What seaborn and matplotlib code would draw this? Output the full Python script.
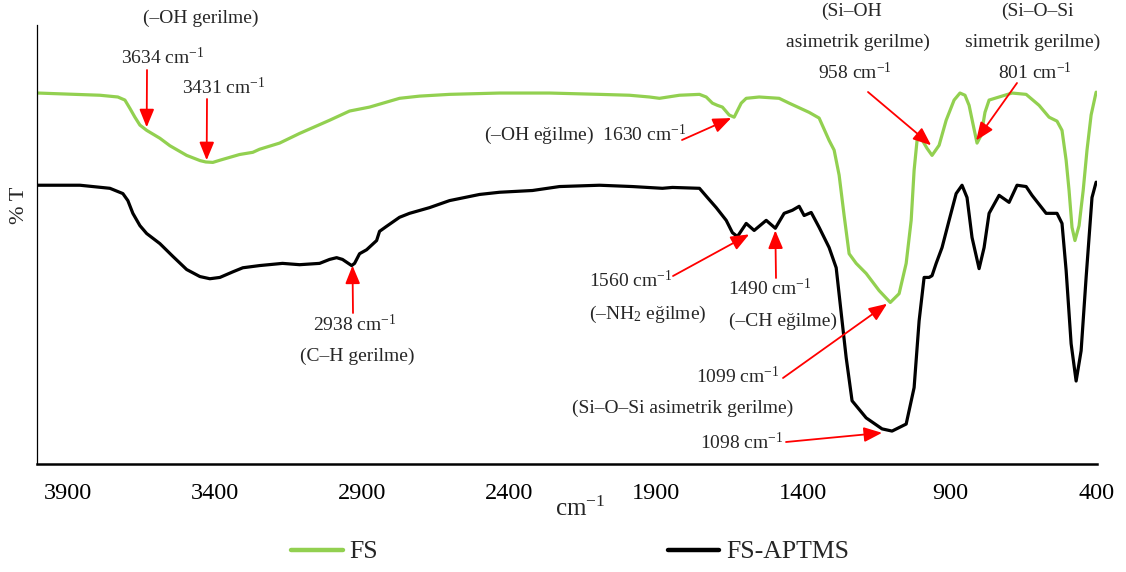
import matplotlib
matplotlib.use("Agg")
import matplotlib.pyplot as plt
import seaborn as sns
import numpy as np
import pandas as pd

# ---------------- data ----------------
fs_wn = [4002, 3791, 3730, 3706, 3689, 3672, 3655, 3632, 3587, 3553, 3496, 3450,
         3431, 3407, 3383, 3316, 3271, 3248,
         3180, 3112, 3010, 2942, 2874, 2772, 2704, 2602, 2432, 2262, 2092, 1990,
         1922, 1888, 1820, 1752, 1729, 1708, 1691, 1674, 1651, 1634, 1610, 1593,
         1549, 1481, 1447, 1379, 1345, 1311, 1294, 1277, 1260, 1243, 1219, 1185,
         1141, 1103, 1073, 1049, 1032, 1022, 1012, 998, 978, 961, 937, 913, 886,
         866, 849, 835, 821, 808, 794, 781, 767, 733, 689, 641, 597, 563, 536,
         519, 505, 495, 485, 475, 461, 447, 434, 420, 403]
fs_t = [84.5, 84.0, 83.6, 82.9, 81.0, 79.0, 77.2, 76.0, 74.2, 72.5, 70.3, 69.1,
        68.8, 68.7, 69.2, 70.5, 71.0, 71.7,
        73.1, 75.3, 78.3, 80.4, 81.3, 83.3, 83.8, 84.2, 84.5, 84.5, 84.2, 84.0,
        83.6, 83.3, 84.0, 84.2, 83.6, 82.2, 81.7, 81.3, 79.5, 79.0, 82.2, 83.3,
        83.6, 83.3, 82.2, 80.1, 78.8, 73.7, 71.5, 65.8, 56.6, 47.9, 45.7, 43.4,
        39.5, 36.8, 38.8, 45.7, 55.5, 66.9, 73.7, 74.2, 71.9, 70.3, 72.6, 78.3, 82.9,
        84.5, 84.0, 81.7, 77.2, 73.1, 74.9, 80.1, 82.9, 83.6, 84.5, 84.2, 81.7, 79.0, 78.1,
        76.0, 69.2, 62.3, 53.9, 50.9, 54.3, 62.3, 71.5, 79.5, 84.7]

ap_wn = [4002, 3859, 3757, 3713, 3696, 3679, 3655, 3632, 3587, 3543, 3496, 3451,
         3417, 3383, 3338, 3305, 3248, 3170, 3112, 3044, 3010, 2986, 2966, 2935,
         2925, 2908, 2884, 2850, 2840, 2817, 2772, 2738, 2670,
         2602, 2500, 2432, 2320, 2228, 2092, 1980, 1878, 1844, 1752, 1725, 1695,
         1661, 1640, 1623, 1593, 1566, 1525, 1494, 1464, 1436, 1413, 1396, 1372,
         1345, 1311, 1287, 1267, 1253, 1233, 1185, 1131, 1097, 1049, 1022, 1005,
         988, 971, 961, 947, 927, 903, 879, 859, 842, 825, 801, 784, 767, 743, 733,
         699, 672, 641, 621, 573, 536, 519, 505, 488, 471, 454, 437, 417, 403]
ap_t = [63.5, 63.5, 62.8, 61.6, 60.0, 57.1, 54.3, 52.5, 50.2, 47.3, 44.3, 42.7,
        42.2, 42.5, 43.8, 44.7, 45.2, 45.7, 45.4, 45.7, 46.6, 47.0, 46.6, 45.2,
        45.7, 47.9, 48.8, 50.9, 53.0, 54.1, 56.2, 57.1, 58.4,
        60.0, 61.4, 61.9, 62.3, 63.2, 63.5, 63.2, 62.8, 63.0, 62.8, 60.7, 58.4,
        55.5, 52.7, 51.8, 54.8, 53.2, 55.5, 53.7, 57.1, 57.8, 58.7, 56.6, 57.3,
        53.9, 49.3, 44.7, 32.6, 24.2, 14.4, 10.5, 8.0, 7.5, 9.1, 17.4, 32.6,
        42.5, 42.5, 42.9, 45.7, 49.3, 55.5, 61.6, 63.5, 60.7, 51.6, 44.5, 49.3, 57.1, 60.0, 61.2,
        59.6, 63.5, 63.2, 61.2, 57.1, 57.1, 54.8, 44.1, 27.4, 18.9, 25.8, 42.5, 60.7, 64.2]

series_names = ["FS", "FS-APTMS"]
x_ticks = [3900, 3400, 2900, 2400, 1900, 1400, 900, 400]

# ---------------- style ----------------
sns.set_style("white")
plt.rcParams["font.family"] = ["Liberation Serif", "DejaVu Serif"]
plt.rcParams["mathtext.fontset"] = "custom"
plt.rcParams["mathtext.rm"] = "Liberation Serif"
plt.rcParams["mathtext.it"] = "Liberation Serif:italic"
plt.rcParams["mathtext.bf"] = "Liberation Serif:bold"

W, H = 1126, 572
fig = plt.figure(figsize=(W / 100, H / 100), dpi=100)
ax = fig.add_axes([37 / W, (H - 464) / H, 1060 / W, 439 / H])

green = "#92D050"
sns.lineplot(x=fs_wn, y=fs_t, ax=ax, color=green, lw=2.3, label=series_names[0],
             solid_joinstyle="round", solid_capstyle="round")
sns.lineplot(x=ap_wn, y=ap_t, ax=ax, color="black", lw=2.3, label=series_names[1],
             solid_joinstyle="round", solid_capstyle="round")

ax.set_xlim(4005, 400)
ax.set_ylim(0, 100)
ax.set_xticks(x_ticks)
ax.set_xticklabels([str(v) for v in x_ticks])
ax.set_yticks([])
for s in ["top", "right"]:
    ax.spines[s].set_visible(False)
ax.spines["bottom"].set_linewidth(1.8)
ax.spines["bottom"].set_color("black")
ax.spines["left"].set_linewidth(0.9)
ax.spines["left"].set_color("black")
ax.tick_params(axis="x", direction="in", length=4.5, width=1.0, colors="black",
               labelsize=17.5, pad=14)

ax.set_xlabel("cm$^{-1}$", fontsize=18, labelpad=0)
ax.xaxis.set_label_coords((580 - 37) / 1060, (464 - 497) / 439)
ax.set_ylabel("% T", fontsize=16)
ax.yaxis.set_label_coords((29 - 37) / 1060, (464 - 205) / 439)

leg = ax.legend(loc="center", bbox_to_anchor=(570 / W, 20 / H),
                bbox_transform=fig.transFigure, ncol=2, frameon=False,
                handlelength=2.0, handletextpad=0.25, columnspacing=11.3,
                fontsize=18.5)
for l in leg.get_lines():
    l.set_linewidth(3.2)

# ---------------- annotations ----------------
FS_ANN = 14


def label(px, py, s):
    fig.text(px / W, 1 - py / H, s, ha="center", va="center", fontsize=FS_ANN)


def arrow(tip_wn, tip_t, tail_px, tail_py):
    ax.annotate("", xy=(tip_wn, tip_t), xycoords="data",
                xytext=(tail_px, H - tail_py), textcoords="figure pixels",
                arrowprops=dict(arrowstyle="-|>,head_length=1.1,head_width=0.45",
                                color="red", lw=1.3, shrinkA=0, shrinkB=0,
                                mutation_scale=10),
                annotation_clip=False)


label(201, 18, "(–OH gerilme)")
label(163, 57, "3634 cm$^{-1}$")
arrow(3632, 76.7, 147, 70)
label(224, 87, "3431 cm$^{-1}$")
arrow(3428, 69.2, 207, 99)

label(585, 135, "(–OH eğilme)  1630 cm$^{-1}$")
arrow(1644, 78.8, 682, 140)

label(852, 11, "(Si–OH")
label(858, 42, "asimetrik gerilme)")
label(855, 72, "958 cm$^{-1}$")
arrow(964, 72.6, 868, 92)

label(1037, 11, "(Si–O–Si")
label(1033, 42, "simetrik gerilme)")
label(1035, 72, "801 cm$^{-1}$")
arrow(811, 73.7, 1017, 83)

label(355, 325, "2938 cm$^{-1}$")
label(357, 356, "(C–H gerilme)")
arrow(2932, 45.2, 353, 313)

label(631, 280, "1560 cm$^{-1}$")
label(648, 314, "(–NH$_2$ eğilme)")
arrow(1583, 52.3, 673, 276)

label(770, 288, "1490 cm$^{-1}$")
label(783, 321, "(–CH eğilme)")
arrow(1494, 53.2, 776, 278)

label(738, 377, "1099 cm$^{-1}$")
arrow(1114, 36.5, 783, 378)
label(683, 408, "(Si–O–Si asimetrik gerilme)")
label(742, 442, "1098 cm$^{-1}$")
arrow(1131, 7.1, 786, 442)

fig.savefig("out.png", dpi=100)
